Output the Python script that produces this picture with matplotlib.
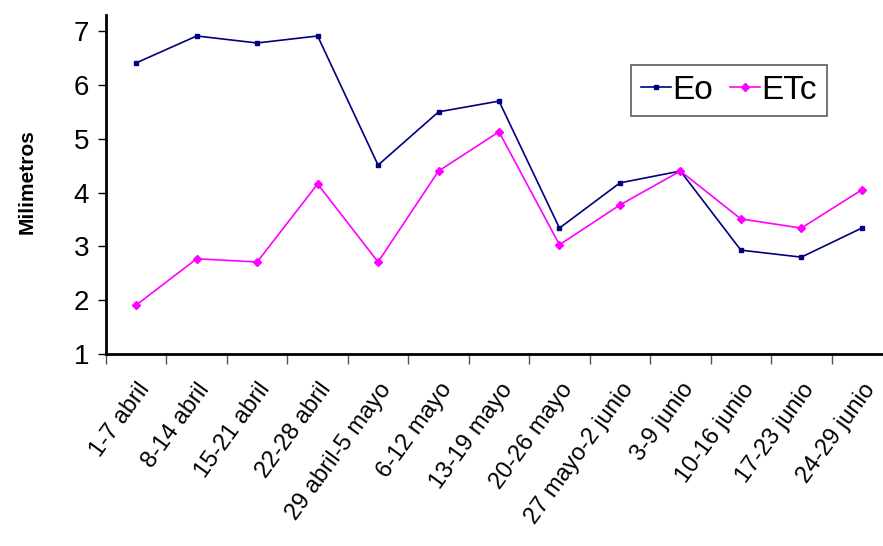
#! /usr/bin/env python3

import matplotlib.pyplot as plt

# weekly evaporation (Eo) and crop evapotranspiration (ETc), mm
semanas = ["1-7 abril", "8-14 abril", "15-21 abril", "22-28 abril",
           "29 abril-5 mayo", "6-12 mayo", "13-19 mayo", "20-26 mayo",
           "27 mayo-2 junio", "3-9 junio", "10-16 junio", "17-23 junio",
           "24-29 junio"]
eo = [6.41, 6.91, 6.78, 6.91, 4.51, 5.50, 5.70, 3.34, 4.18, 4.40, 2.93, 2.80, 3.34]
etc = [1.91, 2.77, 2.71, 4.16, 2.71, 4.40, 5.13, 3.03, 3.77, 4.40, 3.51, 3.34, 4.05]

plt.rcParams['font.family'] = ['Liberation Sans', 'DejaVu Sans']

fig = plt.figure(figsize=(8.83, 5.46), dpi=100)
ax = fig.add_axes([106 / 883, 1 - 354 / 546, (892 - 106) / 883, (354 - 15) / 546])

x = range(len(semanas))
ax.plot(x, eo, color='#000080', lw=1.2, marker='s', ms=3.5, label='Eo')
ax.plot(x, etc, color='#FF00FF', lw=1.2, marker='D', ms=4, label='ETc')

ax.set_xlim(-0.5, len(semanas) - 0.5)
ax.set_ylim(1, 7.3)
ax.set_yticks([1, 2, 3, 4, 5, 6, 7])
ax.tick_params(axis='y', labelsize=20, length=6, width=1, pad=6)

# ticks sit between categories, labels under each category
ax.set_xticks([i - 0.5 for i in range(len(semanas) + 1)])
ax.set_xticklabels([])
ax.tick_params(axis='x', length=7, width=1, color='#555555')
ax.set_xticks(list(x), minor=True)
ax.set_xticklabels(semanas, minor=True, rotation=54, ha='right',
                   rotation_mode='anchor', fontsize=17)
ax.tick_params(axis='x', which='minor', length=0, pad=18)

for side in ['top', 'right']:
    ax.spines[side].set_visible(False)
for side in ['left', 'bottom']:
    ax.spines[side].set_linewidth(2)

fig.text(27 / 883, 1 - 182 / 546, 'Milimetros', rotation=90, fontsize=15,
         fontweight='bold', ha='center', va='center')

leg = fig.legend(loc='upper left', bbox_to_anchor=(631 / 883, 1 - 65 / 546),
                 ncol=2, fontsize=24, frameon=True, fancybox=False,
                 handlelength=0.9, handletextpad=0.05, columnspacing=0.5,
                 borderpad=0.3, borderaxespad=0)
leg.get_frame().set_edgecolor('#333333')
leg.get_frame().set_linewidth(1.2)

plt.savefig('out.png', dpi=100)
